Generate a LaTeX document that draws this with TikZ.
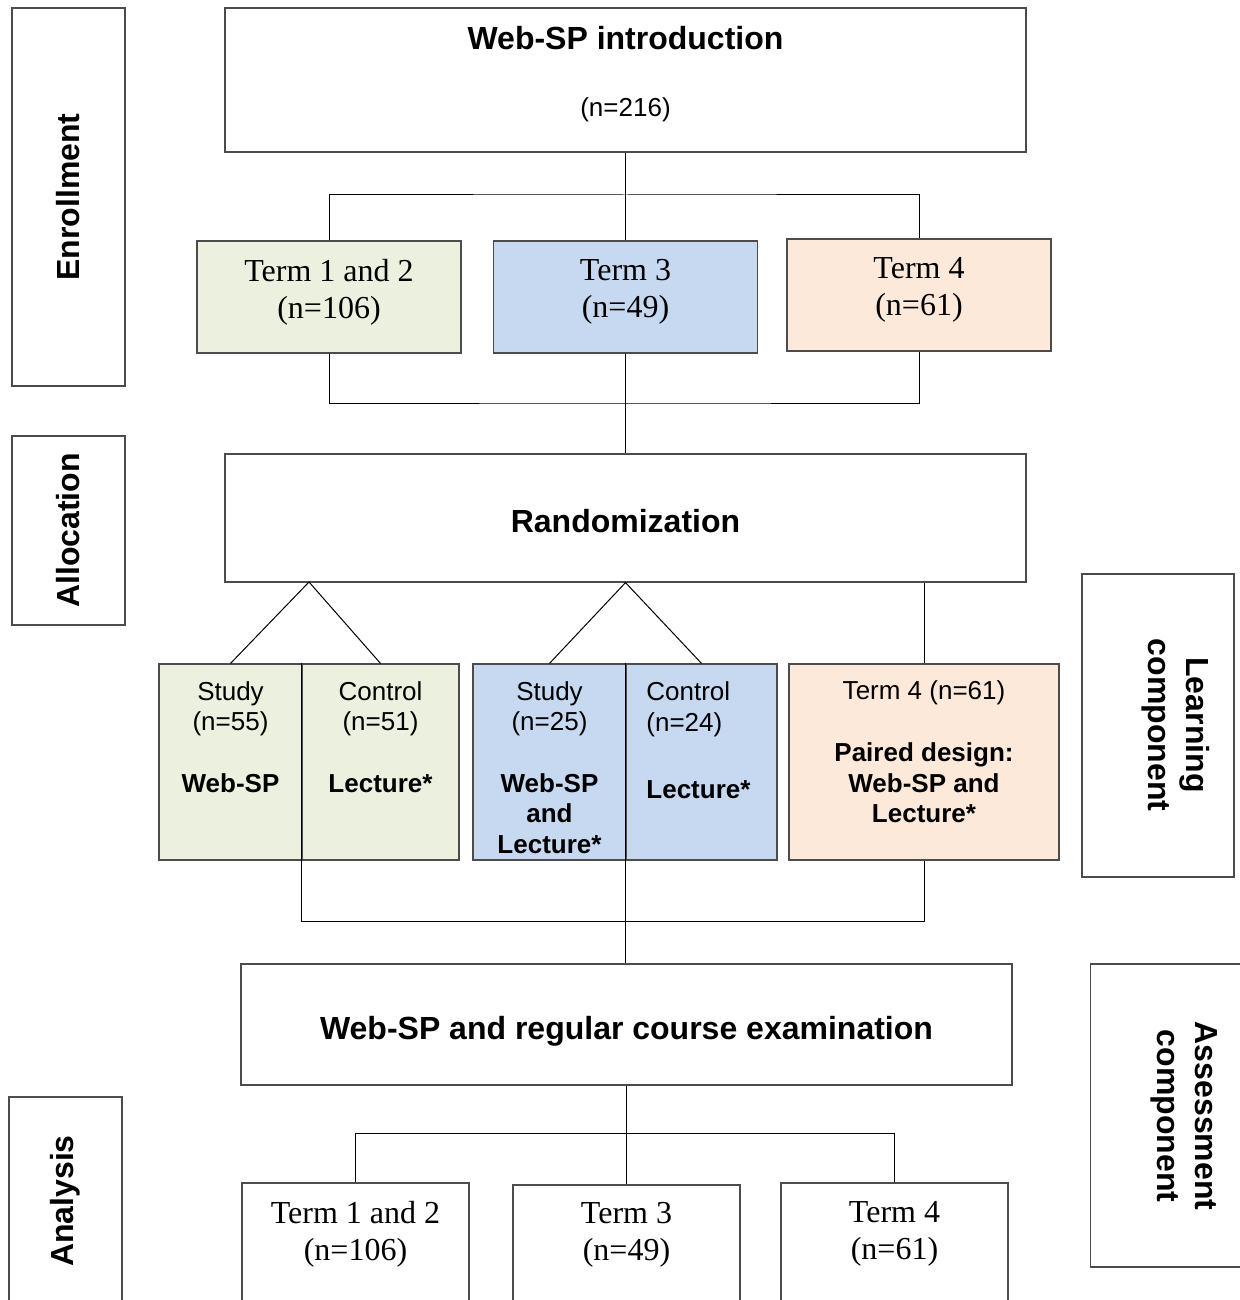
\documentclass[tikz,border=0pt]{standalone}
\usepackage{fontspec}
\setmainfont{Liberation Serif}
\setsansfont{Liberation Sans}
\usepackage{tikz}
\usetikzlibrary{positioning, shapes}

\definecolor{grn}{HTML}{EBF1DE}
\definecolor{blu}{HTML}{C6D9F1}
\definecolor{pch}{HTML}{FDE9D9}

\tikzset{sz/.style 2 args={minimum width=#1*0.5pt, minimum height=#2*0.5pt}}

\begin{document}
\begin{tikzpicture}[x=0.5pt, y=-0.5pt]

        % Define block styles
        \tikzstyle{frame} = [rectangle, draw=black!70, line width=0.6pt, inner sep=0pt]
        \tikzstyle{head} = [font=\fontsize{16}{19}\selectfont\sffamily\bfseries, align=center, inner sep=0pt]
        \tikzstyle{small} = [font=\fontsize{13}{15.35}\selectfont\sffamily, align=center, inner sep=0pt]
        \tikzstyle{serif} = [font=\fontsize{16}{18.5}\selectfont, align=center, inner sep=0pt]
        \tikzstyle{line} = [black, line width=0.5pt]

        \useasboundingbox (0,0) rectangle (1240,1300);

        % Side boxes
        \node (enr) [frame, head, rotate=90, sz={378}{113}] at (68.5,197) {Enrollment};
        \node (alloc) [frame, head, rotate=90, sz={189}{113}] at (68.5,530.5) {Allocation};
        \node (ana) [frame, head, rotate=90, sz={208}{113}] at (65.5,1201) {Analysis};
        \node (learn) [frame, sz={152}{303}] at (1158,725.5) {};
        \node (learntxt) [head, rotate=-90] at (1176,725) {Learning\\component};
        \node (assess) [frame, sz={190}{303}] at (1185.5,1115.5) {};
        \node (assesstxt) [head, rotate=-90] at (1184,1116) {Assessment\\component};

        % Enrollment
        \node (intro) [frame, sz={801}{144}] at (625.5,80) {};
        \node (introtitle) [head] at (625.5,38) {Web-SP introduction};
        \node (intron) [small] at (625.5,110) {(n=216)};
        \node (t12) [frame, fill=grn, sz={264}{112}] at (329,297) {};
        \node (t3) [frame, fill=blu, sz={264}{112}] at (625.5,297) {};
        \node (t4) [frame, fill=pch, sz={264}{112}] at (919,295) {};
        \node (t12txt) [serif] at (329,292) {Term 1 and 2\\(n=106)};
        \node (t3txt) [serif] at (625.5,292) {Term 3\\(n=49)};
        \node (t4txt) [serif] at (919,290) {Term 4\\(n=61)};

        % Allocation
        \node (rand) [frame, sz={801}{128}] at (625.5,518) {};
        \node (randtxt) [head] at (625.5,521) {Randomization};
        \node (s1) [frame, fill=grn, sz={143}{196}] at (230.5,762) {};
        \node (c1) [frame, fill=grn, sz={157}{196}] at (380.5,762) {};
        \node (s2) [frame, fill=blu, sz={153}{196}] at (549.5,762) {};
        \node (c2) [frame, fill=blu, sz={151}{196}] at (701.5,762) {};
        \node (p4) [frame, fill=pch, sz={270}{196}] at (924,762) {};
        \node (s1txt) [small] at (230.5,737) {Study\\(n=55)\\[15.35pt]\textbf{Web-SP}};
        \node (c1txt) [small] at (380.5,737) {Control\\(n=51)\\[15.35pt]\textbf{Lecture*}};
        \node (s2txt) [small] at (549.5,767.5) {Study\\(n=25)\\[15.35pt]\textbf{Web-SP}\\\textbf{and}\\\textbf{Lecture*}};
        \node (c2txt) [small, align=left, anchor=west] at (646,740) {Control\\(n=24)\\[18.15pt]\textbf{Lecture*}};
        \node (p4txt) [small] at (924,752) {Term 4 (n=61)\\[15.35pt]\textbf{Paired design:}\\\textbf{Web-SP and}\\\textbf{Lecture*}};

        % Assessment
        \node (exam) [frame, sz={771}{121}] at (626.5,1024.5) {};
        \node (examtxt) [head] at (626.5,1031) {Web-SP and regular course examination};
        \node (a12) [frame, sz={227}{157}] at (355.5,1261.5) {};
        \node (a3) [frame, sz={227}{155}] at (626.5,1262.5) {};
        \node (a4) [frame, sz={227}{157}] at (894.5,1261.5) {};
        \node (a12txt) [serif] at (355.5,1234) {Term 1 and 2\\(n=106)};
        \node (a3txt) [serif] at (626.5,1235) {Term 3\\(n=49)};
        \node (a4txt) [serif] at (894.5,1234) {Term 4\\(n=61)};

        % Connectors
        \coordinate (b1) at (625.5,195);
        \coordinate (b2) at (625.5,403);
        \coordinate (r1) at (309,582);
        \coordinate (b4) at (626.5,1133);
        \draw [line] (intro.south) -- (t3.north);
        \draw [line] (t12.north) |- (b1) -| (t4.north);
        \draw [line] (t12.south) |- (b2) -| (t4.south);
        \draw [line] (t3.south) -- (rand.north);
        \draw [line] (s1.north) -- (r1) -- (c1.north);
        \draw [line] (s2.north) -- (rand.south) -- (c2.north);
        \draw [line] (p4.north) -- (p4.north |- rand.south);
        \draw [line] (c1.north west) -- (c1.south west) -- ++(0,61) -| (p4.south);
        \draw [line] (c2.north west) -- (c2.south west) -- (c2.south west |- exam.north);
        \draw [line] (exam.south) -- (a3.north);
        \draw [line] (a12.north) |- (b4) -| (a4.north);

\end{tikzpicture}
\end{document}
